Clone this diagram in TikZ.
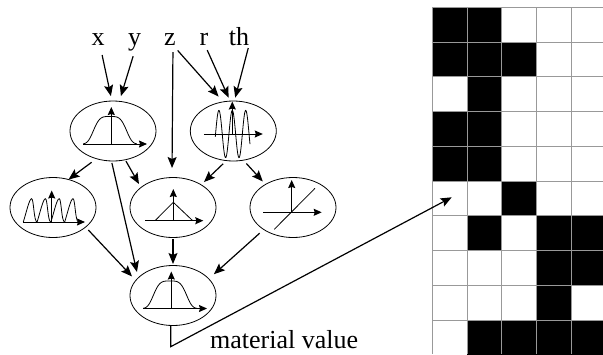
\documentclass[tikz,border=0pt]{standalone}
\usepackage{fontspec}
\setmainfont{Liberation Serif}
\usetikzlibrary{positioning, shapes.geometric, arrows.meta}
\tikzstyle{FuncNode} = [draw, ellipse, minimum width=86pt, minimum height=60pt, inner sep=0pt, outer sep=0pt, line width=0.8pt]
\tikzstyle{VarLabel} = [inner sep=0pt, text height=12pt, text depth=0pt, font=\fontsize{26}{26}\selectfont]
\tikzstyle{LinkArrow} = [-{Stealth[length=11pt, width=9pt, inset=2pt]}, line width=1.2pt]
\tikzstyle{AxisArrow} = [-{Stealth[length=8pt, width=7pt, inset=1pt]}, line width=1pt]
\tikzstyle{CurveLine} = [line width=0.8pt]
\tikzset{
  pics/bellicon/.style={code={
    \draw[AxisArrow] (-30,13) -- (34,13);
    \draw[AxisArrow] (-1.7,13) -- (-1.7,-24);
    \draw[CurveLine] plot[domain=-29.7:23.7, samples=70] (\x, {13-27.5*exp(-((\x+3)/18)^4)});
  }},
  pics/waveicon/.style={code={
    \draw[AxisArrow] (-29.5,3) -- (29.5,3);
    \draw[CurveLine] plot[domain=-18:16.7, samples=120] (\x, {3-23.6*cos(360*(\x+1)/13.4)});
    \draw[AxisArrow] (-1,4) -- (-1,-29.5);
  }},
  pics/humpicon/.style={code={
    \draw[AxisArrow] (-29.7,14.5) -- (32,14.5);
    \draw[AxisArrow] (-1.3,14.5) -- (-1.3,-17);
    \foreach \hx in {-29.7, -15.9, -2.1, 11.7} {
      \draw[CurveLine] (\hx,14.5) .. controls (\hx+3,5) and (\hx+6,-8.8) .. (\hx+8.3,-8.8)
        .. controls (\hx+10.5,-8.8) and (\hx+10.5,14.5) .. (\hx+13.8,14.5);
    }
  }},
  pics/tenticon/.style={code={
    \draw[AxisArrow] (-28,13.2) -- (30.3,13.2);
    \draw[AxisArrow] (0.3,13.2) -- (0.3,-18.5);
    \draw[CurveLine] (-18,13.2) -- (0.3,-5.2) -- (19.7,13.2);
  }},
  pics/rampicon/.style={code={
    \draw[AxisArrow] (-29.7,4.8) -- (28.7,4.8);
    \draw[AxisArrow] (-1.3,4.8) -- (-1.3,-27.5);
    \draw[CurveLine] (-18.7,21.8) -- (22,-19.2);
  }}
}

\begin{document}
\begin{tikzpicture}[x=1pt, y=-1pt, node distance = 60pt, on grid]
    \useasboundingbox (0,0) rectangle (603,354);

    \node[VarLabel] (xvar) at (98,39) {x};
    \node[VarLabel] (yvar) [right = 36.5pt of xvar] {y};
    \node[VarLabel] (zvar) [right = 35.5pt of yvar] {z};
    \node[VarLabel] (rvar) [right = 34pt of zvar] {r};
    \node[VarLabel] (thvar) [right = 35pt of rvar] {th};

    \node[FuncNode] (inbell) at (113,131) {};
    \node[FuncNode] (inwave) [right = 120.3pt of inbell] {};
    \node[FuncNode] (hump) [below left = 76.5pt and 60pt of inbell] {};
    \node[FuncNode] (tent) [below right = 76.5pt and 60pt of inbell] {};
    \node[FuncNode] (ramp) [right = 120pt of tent] {};
    \node[FuncNode] (outbell) [below = 88pt of tent] {};

    \pic at (inbell) {bellicon};
    \pic at (inwave) {waveicon};
    \pic at (hump) {humpicon};
    \pic at (tent) {tenticon};
    \pic at (ramp) {rampicon};
    \pic at (outbell) {bellicon};

    \draw[LinkArrow, shorten <=10pt, shorten >=5pt] ([xshift=2pt]xvar.south) -- (inbell.92);
    \draw[LinkArrow, shorten <=11.5pt, shorten >=5.5pt] ([xshift=2pt]yvar.south) -- (inbell.78);
    \draw[LinkArrow, shorten <=7pt, shorten >=9.5pt] ([xshift=3pt]zvar.south) -- (tent.92);
    \draw[LinkArrow, shorten <=7pt, shorten >=7pt] ([xshift=3pt]zvar.south) -- (inwave.109.5);
    \draw[LinkArrow, shorten <=5.5pt, shorten >=3.7pt] ([xshift=1pt]rvar.south) -- (inwave.96.7);
    \draw[LinkArrow, shorten <=3pt, shorten >=3.5pt] ([xshift=10pt]thvar.south) -- (inwave.88);

    \draw[LinkArrow, shorten <=6pt] (inbell.239) -- (hump.61);
    \draw[LinkArrow, shorten <=1.5pt, shorten >=4pt] (inbell.293) -- (tent.148);
    \draw[LinkArrow, shorten <=2pt, shorten >=6pt] (inbell.267) -- (outbell.153);
    \draw[LinkArrow, shorten <=4.5pt, shorten >=4pt] (inwave.257) -- (tent.39);
    \draw[LinkArrow, shorten <=4.5pt, shorten >=4pt] (inwave.289.5) -- (ramp.140.6);
    \draw[LinkArrow, shorten <=4pt, shorten >=5.5pt] (hump.329) -- (outbell.158.6);
    \draw[LinkArrow, shorten <=1.5pt, shorten >=1.5pt] (tent.south) -- (outbell.north);
    \draw[LinkArrow, shorten <=5.5pt, shorten >=6.9pt] (ramp.217.3) -- (outbell.25);

    \foreach \row/\cols in {0/{0,1}, 1/{0,1,2}, 2/{1}, 3/{0,1}, 4/{0,1}, 5/{2}, 6/{1,3,4}, 7/{3,4}, 8/{3}, 9/{1,2,3,4}} {
      \foreach \col in \cols {
        \fill[black] (432.3+34.8*\col, 7.3+34.75*\row) rectangle ++(34.8,34.75);
      }
    }
    \foreach \col in {0,...,4} {
      \draw[black!40, line width=0.9pt] (432.3+34.8*\col, 7.3) -- (432.3+34.8*\col, 354);
    }
    \foreach \row in {0,...,9} {
      \draw[black!40, line width=0.9pt] (432.3, 7.3+34.75*\row) -- (603, 7.3+34.75*\row);
    }

    \node[VarLabel, anchor=base west] (matval) at (210,348.3) {material value};

    \coordinate (bend) at (170.7,346.7);
    \coordinate (cellhit) at (451.7,197.3);
    \draw[LinkArrow] (outbell.south -| bend) -- (bend) -- (cellhit);
\end{tikzpicture}
\end{document}
